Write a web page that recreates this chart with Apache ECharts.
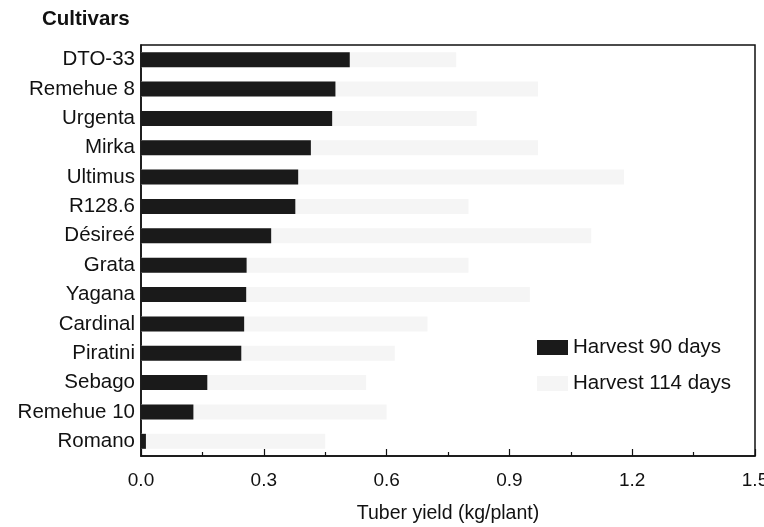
<!DOCTYPE html>
<html>
<head>
<meta charset="utf-8">
<script src="https://cdn.jsdelivr.net/npm/echarts@6/dist/echarts.min.js"></script>
<style>
html,body{margin:0;padding:0;background:#fff;}
#chart{width:764px;height:527px;}
</style>
</head>
<body>
<div id="chart"></div>
<script>
const cultivars = ["DTO-33","Remehue 8","Urgenta","Mirka","Ultimus","R128.6","Désireé","Grata","Yagana","Cardinal","Piratini","Sebago","Remehue 10","Romano"];
const harvest90 = [0.51,0.475,0.467,0.415,0.384,0.377,0.318,0.258,0.257,0.252,0.245,0.162,0.128,0.012];
const harvest114 = [0.77,0.97,0.82,0.97,1.18,0.80,1.10,0.80,0.95,0.70,0.62,0.55,0.60,0.45];
const xTicks = [0.0,0.3,0.6,0.9,1.2,1.5];

const font = "Liberation Sans, Arial, sans-serif";
const chart = echarts.init(document.getElementById('chart'));
chart.setOption({
  animation:false,
  backgroundColor:'#fff',
  textStyle:{fontFamily:font,color:'#111'},
  title:{text:'Cultivars',left:42,top:9,padding:0,textStyle:{fontFamily:font,fontSize:20.5,fontWeight:'bold',color:'#111'}},
  legend:{
    orient:'vertical',left:537,top:337,padding:0,itemWidth:31,itemHeight:15,itemGap:15,icon:'rect',
    textStyle:{fontFamily:font,fontSize:20.5,color:'#111'},
    data:['Harvest 90 days','Harvest 114 days']
  },
  grid:{left:141,right:9,top:45,bottom:71,show:true,borderColor:'#111',borderWidth:1.5,
    backgroundColor:'transparent',containLabel:false,outerBoundsMode:'none'},
  xAxis:{
    type:'value',min:0,max:1.5,interval:0.3,
    axisLine:{show:true,lineStyle:{color:'#111',width:1.5}},
    axisTick:{show:true,inside:true,length:7,lineStyle:{color:'#111',width:1.2}},
    minorTick:{show:true,splitNumber:2,length:4,lineStyle:{color:'#111',width:1.2}},
    splitLine:{show:false},
    axisLabel:{fontFamily:font,fontSize:19,color:'#111',margin:15,
      formatter:function(v){const t=xTicks.find(x=>Math.abs(x-v)<1e-6);return t===undefined?'':t.toFixed(1);}},
    name:'Tuber yield (kg/plant)',nameLocation:'middle',nameGap:48,
    nameTextStyle:{fontFamily:font,fontSize:19.5,color:'#111'}
  },
  yAxis:{
    type:'category',inverse:true,data:cultivars,
    axisLine:{show:true,lineStyle:{color:'#111',width:1.5}},
    axisTick:{show:false},
    axisLabel:{fontFamily:font,fontSize:20.5,color:'#111',margin:6}
  },
  series:[
    {name:'Harvest 90 days',type:'bar',data:harvest90,barWidth:15,barGap:'-100%',z:3,
      itemStyle:{color:'#1a1a1a'}},
    {name:'Harvest 114 days',type:'bar',data:harvest114,barWidth:15,barGap:'-100%',z:2,
      itemStyle:{color:'#f5f5f5'}}
  ]
});
</script>
</body>
</html>
